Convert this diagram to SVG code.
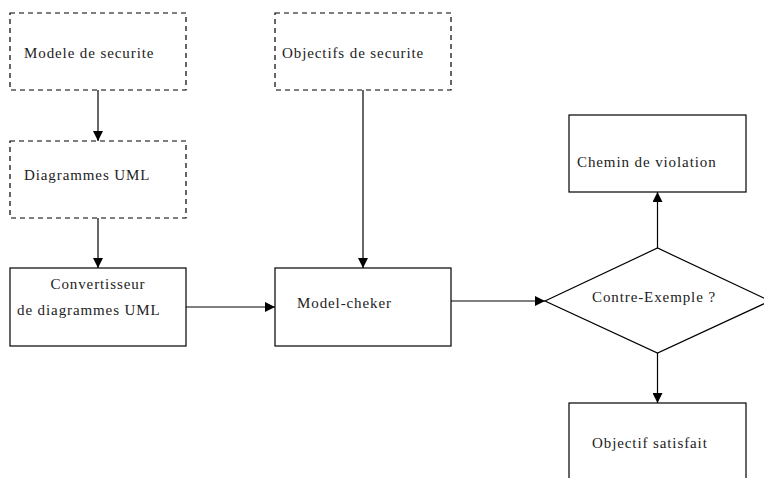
<svg xmlns="http://www.w3.org/2000/svg" width="764" height="478" viewBox="0 0 764 478">
<defs>
<style>
.n{fill:#fff;stroke:#000;stroke-width:1.2}
.d{stroke-dasharray:5,4}
.t{font-family:"Liberation Serif","Times New Roman",serif;font-size:15px;letter-spacing:0.9px;fill:#222}
.e{stroke:#000;stroke-width:1.2;fill:none;marker-end:url(#ah)}
</style>
<marker id="ah" viewBox="0 0 10 10" refX="10" refY="5" markerWidth="10" markerHeight="10" markerUnits="userSpaceOnUse" orient="auto">
<path d="M0,0 L10,5 L0,10 Z" fill="#000"/>
</marker>
</defs>
<rect width="764" height="478" fill="#fff"/>
<g id="connectors">
<line class="e" x1="98" y1="90" x2="98" y2="141"/>
<line class="e" x1="98" y1="218" x2="98" y2="268"/>
<line class="e" x1="186" y1="307" x2="275" y2="307"/>
<line class="e" x1="363" y1="90" x2="363" y2="268"/>
<line class="e" x1="451" y1="301" x2="545" y2="301"/>
<line class="e" x1="657.5" y1="248" x2="657.5" y2="192"/>
<line class="e" x1="657.5" y1="353" x2="657.5" y2="403"/>
</g>
<g id="modele">
<rect class="n d" x="10" y="13" width="176" height="77"/>
<text class="t" x="24" y="58">Modele de securite</text>
</g>
<g id="diagrammes">
<rect class="n d" x="10" y="141" width="176" height="77"/>
<text class="t" x="24" y="180">Diagrammes UML</text>
</g>
<g id="convertisseur">
<rect class="n" x="10" y="268" width="176" height="78"/>
<text class="t" x="98" y="289" text-anchor="middle">Convertisseur</text>
<text class="t" x="17" y="315">de diagrammes UML</text>
</g>
<g id="objectifs">
<rect class="n d" x="275" y="13" width="176" height="77"/>
<text class="t" x="282" y="58">Objectifs de securite</text>
</g>
<g id="modelchecker">
<rect class="n" x="275" y="268" width="176" height="78"/>
<text class="t" x="297" y="308">Model-cheker</text>
</g>
<g id="contre">
<polygon class="n" points="545,301 657.5,248 770,301 657.5,353"/>
<text class="t" x="592" y="302">Contre-Exemple ?</text>
</g>
<g id="chemin">
<rect class="n" x="569" y="115" width="177" height="77"/>
<text class="t" x="577" y="167">Chemin de violation</text>
</g>
<g id="satisfait">
<rect class="n" x="569" y="403" width="177" height="90"/>
<text class="t" x="592" y="448">Objectif satisfait</text>
</g>
</svg>
